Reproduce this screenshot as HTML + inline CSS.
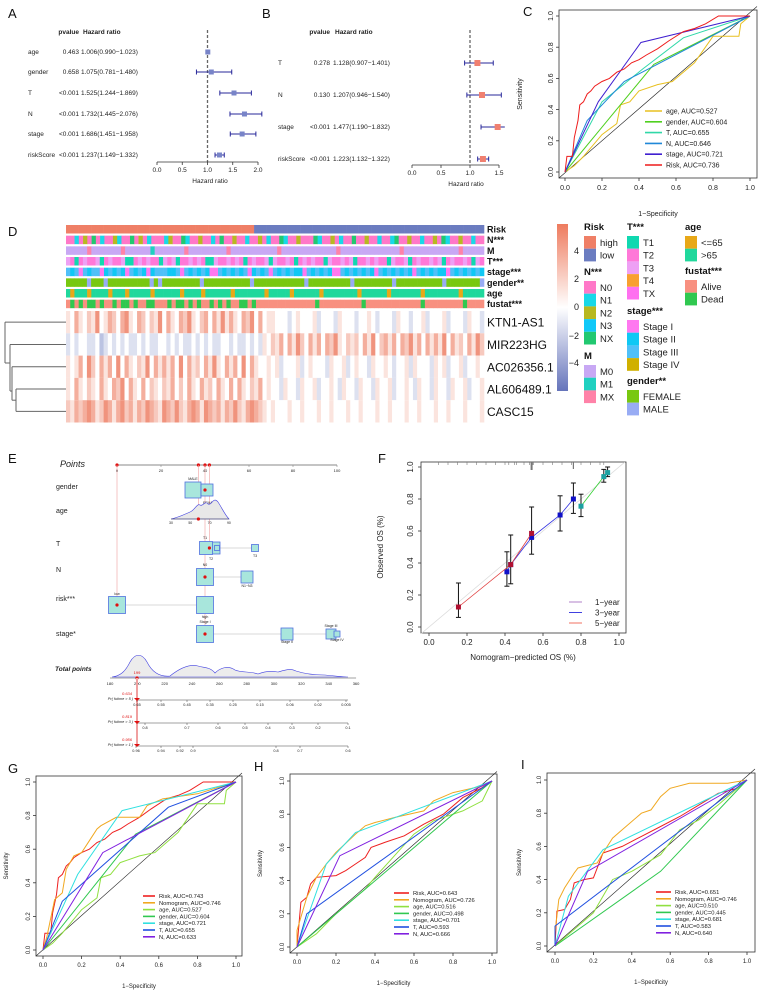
<!DOCTYPE html>
<html><head><meta charset="utf-8">
<style>
html,body{margin:0;padding:0;background:#fff;}
svg{display:block;font-family:"Liberation Sans",Arial,sans-serif;}
</style></head>
<body>
<svg id="fig" width="760" height="993" viewBox="0 0 760 993" xmlns="http://www.w3.org/2000/svg">
<defs>
<linearGradient id="cbar" x1="0" y1="0" x2="0" y2="1">
<stop offset="0" stop-color="#ee7b5e"/><stop offset="0.5" stop-color="#ffffff"/><stop offset="1" stop-color="#6574bb"/>
</linearGradient>
</defs>
</svg>
<script>
// ---------------- DATA ----------------
const aNames=["age","gender","T","N","stage","riskScore"];
const aP=["0.463","0.658","<0.001","<0.001","<0.001","<0.001"];
const aHR=[1.006,1.075,1.525,1.732,1.686,1.237];
const aLo=[0.990,0.781,1.244,1.445,1.451,1.149];
const aHi=[1.023,1.480,1.869,2.076,1.958,1.332];
const aTicks=[0,0.5,1,1.5,2];
const bNames=["T","N","stage","riskScore"];
const bP=["0.278","0.130","<0.001","<0.001"];
const bHR=[1.128,1.207,1.477,1.223];
const bLo=[0.907,0.946,1.190,1.132];
const bHi=[1.401,1.540,1.832,1.322];
const bTicks=[0,0.5,1,1.5];
const rocTicks=[0,0.2,0.4,0.6,0.8,1.0];
const rocTickLabels=["0.0","0.2","0.4","0.6","0.8","1.0"];
const cAge=[[0,0],[0.05,0.04],[0.1,0.1],[0.2,0.24],[0.28,0.31],[0.3,0.43],[0.35,0.45],[0.4,0.52],[0.5,0.56],[0.58,0.58],[0.7,0.7],[0.8,0.87],[0.94,0.87],[0.95,0.95],[1,1]];
const cGender=[[0,0],[0.48,0.69],[1,1]];
const cT=[[0,0],[0.2,0.45],[0.42,0.66],[0.64,0.86],[1,1]];
const cN=[[0,0],[0.12,0.33],[0.32,0.58],[1,1]];
const cStage=[[0,0],[0.18,0.45],[0.41,0.83],[1,1]];
const cRisk=[[0,0],[0.01,0.1],[0.04,0.1],[0.05,0.22],[0.07,0.33],[0.08,0.43],[0.1,0.45],[0.12,0.5],[0.14,0.52],[0.16,0.55],[0.2,0.58],[0.24,0.6],[0.28,0.64],[0.32,0.66],[0.36,0.7],[0.4,0.72],[0.44,0.75],[0.5,0.79],[0.56,0.84],[0.64,0.9],[0.7,0.92],[0.76,0.95],[0.83,1.0],[1,1]];
const cLabels=["age, AUC=0.527","gender, AUC=0.604","T, AUC=0.655","N, AUC=0.646","stage, AUC=0.721","Risk, AUC=0.736"];
const gRisk=cRisk;
const gNomo=[[0,0],[0.02,0.08],[0.06,0.3],[0.1,0.34],[0.12,0.48],[0.16,0.56],[0.2,0.58],[0.24,0.65],[0.28,0.72],[0.3,0.74],[0.38,0.79],[0.5,0.79],[0.54,0.86],[0.62,0.9],[0.8,0.93],[1,1]];
const gAge=cAge;
const gGender=[[0,0],[0.48,0.69],[1,1]];
const gStage=[[0,0],[0.18,0.45],[0.41,0.83],[1,1]];
const gT=[[0,0],[0.1,0.29],[0.65,0.85],[1,1]];
const gN=[[0,0],[0.31,0.58],[1,1]];
const gLabels=["Risk, AUC=0.743","Nomogram, AUC=0.746","age, AUC=0.527","gender, AUC=0.604","stage, AUC=0.721","T, AUC=0.655","N, AUC=0.633"];
const hRisk=[[0,0],[0.02,0.27],[0.05,0.3],[0.07,0.38],[0.1,0.42],[0.2,0.43],[0.25,0.46],[0.3,0.5],[0.35,0.54],[0.38,0.6],[0.45,0.63],[0.55,0.67],[0.65,0.74],[0.75,0.8],[0.85,0.9],[0.95,0.96],[1,1]];
const hNomo=[[0,0],[0,0.1],[0.05,0.3],[0.1,0.42],[0.15,0.5],[0.2,0.57],[0.3,0.68],[0.35,0.73],[0.4,0.75],[0.5,0.78],[0.65,0.82],[0.7,0.88],[0.8,0.93],[0.95,0.97],[1,1]];
const hAge=[[0,0],[0.1,0.08],[0.2,0.2],[0.3,0.3],[0.35,0.35],[0.4,0.42],[0.5,0.55],[0.6,0.68],[0.7,0.76],[0.85,0.82],[0.95,0.88],[1,1]];
const hGender=[[0,0],[0.5,0.498],[1,1]];
const hStage=[[0,0],[0.15,0.5],[0.3,0.69],[1,1]];
const hT=[[0,0],[0.05,0.2],[1,1]];
const hN=[[0,0],[0.22,0.55],[1,1]];
const hLabels=["Risk, AUC=0.643","Nomogram, AUC=0.726","age, AUC=0.516","gender, AUC=0.498","stage, AUC=0.701","T, AUC=0.593","N, AUC=0.666"];
const iRisk=[[0,0],[0.01,0.21],[0.05,0.22],[0.08,0.28],[0.1,0.38],[0.15,0.4],[0.2,0.41],[0.25,0.56],[0.35,0.6],[0.45,0.66],[0.55,0.72],[0.65,0.78],[0.75,0.85],[0.85,0.92],[0.95,0.95],[1,1]];
const iNomo=[[0,0],[0,0.08],[0.02,0.28],[0.05,0.35],[0.1,0.44],[0.12,0.47],[0.22,0.5],[0.25,0.56],[0.3,0.65],[0.35,0.7],[0.45,0.8],[0.5,0.82],[0.55,0.9],[0.6,0.95],[0.7,0.98],[0.9,0.98],[1,1]];
const iAge=[[0,0],[0.1,0.1],[0.2,0.2],[0.3,0.4],[0.4,0.45],[0.55,0.55],[0.65,0.7],[0.75,0.76],[0.85,0.85],[1,1]];
const iGender=[[0,0],[0.55,0.45],[1,1]];
const iStage=[[0,0],[0.07,0.3],[0.25,0.58],[1,1]];
const iT=[[0,0],[0,0.12],[1,1]];
const iN=[[0,0],[0.17,0.45],[1,1]];
const iLabels=["Risk, AUC=0.651","Nomogram, AUC=0.746","age, AUC=0.510","gender, AUC=0.445","stage, AUC=0.681","T, AUC=0.583","N, AUC=0.640"];
const f1x=[0.80,0.92,0.94]; const f1y=[0.755,0.94,0.965];
const f3x=[0.41,0.43,0.54,0.69,0.76]; const f3y=[0.345,0.39,0.56,0.70,0.80];
const f5x=[0.155,0.43,0.54]; const f5y=[0.125,0.39,0.585];
const fErrX=[0.155,0.41,0.43,0.54,0.69,0.76,0.80,0.92,0.94];
const fErrLo=[0.06,0.255,0.27,0.455,0.6,0.71,0.69,0.905,0.94];
const fErrHi=[0.275,0.47,0.575,0.75,0.82,0.9,0.83,0.985,1.0];
const fRug=[0.05,0.1,0.15,0.2,0.25,0.3,0.35,0.4,0.42,0.45,0.46,0.5,0.53,0.54,0.545,0.55,0.6,0.65,0.7,0.75,0.76,0.8,0.85,0.9,0.92];
const riskRow="h".repeat(45)+"l".repeat(55);
const nRow="aabacaeabaacbaaeacabaaabcaaebaacaabaeaacaabaacabaaebaacaaaebaacabaaeaacaabaabeaacaabaacaebaacaabaa";
const mRow="aaaaacaaaaaaacaaaaaabaaaaaaacaaaaaaaaacaaaaaaaaaaacaaaaaaaaaaaaacaaaaaaaaaaaaaacaaaaaaaaaaaaacaaaaa";
const tRow="cbabcbbcabcbbcaabcbcbbacbcabbcbcbaacbbcbcbabcbbcacbbcbabcbcbbacbbcbcabbcbcbbacbbcabcbbcbcabcbbcbacb";
const stageRow="cbcacbccabcbcbacbcbabcccbbcacbcbcbaacbcbcbcabcbcacbcbcbbacbcbcbaacbcbcbcbacbcbcbcbacbcbcbbacbcbcbcb";
const genderRow="aaaaabaaabaaaaaaaaaababaaaaaaaaabaaaaaaaaaaabaaaaaaaaaaaabaaaaaaaaaabaaaaaaaaabaaaaaaaaaaabaaaaaaaab";
const ageRow="babbbabbbbabbbabbbbbabbbbbbabbbbabbbbbbabbbbbbbabbbbbabbbbbbabbbbbbbbabbbbbbabbbbbbbabbbbbbbbabbbbb";
const fustatRow="abababbabaababbabaabbaaababbababaabababaabbabaaaaaaaaaaaaaabaaaaaaaaaabaaaaaaaaaaaaabaaaaaaaaabaaaa";
const geneNames=["KTN1-AS1","MIR223HG","AC026356.1","AL606489.1","CASC15"];
const geneVals=[
"5475465845764785476465847547685467475857547684745544434544453444354443445434443544344534445344435443",
"3434433423434343343433443434334343433443433434354657475864757476854656475846757476857475758475647586",
"5457486475748475465847575748475647585475748475445453444534544435445345443544543445354443545344534454",
"5475465475476847547465465746475475647547475465745443544354453445435443544354453445435443544354453445",
"6576787568757867576876587686578758767576865787654544454454445445444544544454454445445444544544454445"];
const ptsTicks=[0,20,40,60,80,100];
const totTicks=[180,200,220,240,260,280,300,320,340,360];
const ageTicks=[30,50,70,90];

// ---------------- HELPERS ----------------
const svg=document.getElementById('fig');
const NS="http://www.w3.org/2000/svg";
function mk(tag,attrs,name,parent){
  const el=document.createElementNS(NS,tag);
  for(const k in attrs) el.setAttribute(k,attrs[k]);
  
  
  (parent||svg).appendChild(el);
  return el;
}
function txt(x,y,s,name,o){
  o=o||{};
  const a={x:x,y:y,'font-size':o.fs||9,fill:o.fill||'#222'};
  if(o.anchor) a['text-anchor']=o.anchor;
  if(o.weight) a['font-weight']=o.weight;
  if(o.style) a['font-style']=o.style;
  if(o.rot!==undefined) a.transform='rotate('+o.rot+' '+x+' '+y+')';
  const t=mk('text',a,name,o.parent);
  t.textContent=s;
  return t;
}
function ln(x1,y1,x2,y2,stroke,w,name,extra){
  const a={x1:x1,y1:y1,x2:x2,y2:y2,stroke:stroke,'stroke-width':w};
  if(extra) for(const k in extra) a[k]=extra[k];
  return mk('line',a,name);
}
function poly(pts,stroke,w,name){
  return mk('polyline',{points:pts.map(p=>p[0].toFixed(1)+','+p[1].toFixed(1)).join(' '),fill:'none',stroke:stroke,'stroke-width':w},name);
}

[["A",8,18],["B",262,18],["C",523,16],["D",8,236],["E",8,463],["F",378,463],["G",8,773],["H",254,771],["I",521,769]].forEach(p=>{
  txt(p[1],p[2],p[0],'panel-label-'+p[0].toLowerCase(),{fs:13,fill:'#111'});
});

function forest(cfg){
  const sx=v=>cfg.x0+v*cfg.k;
  txt(cfg.pX,cfg.headY,'pvalue','pvalue-header-'+cfg.id,{fs:6.5,weight:'bold',anchor:'end'});
  txt(cfg.hrX+2,cfg.headY,'Hazard ratio','hazard-ratio-header-'+cfg.id,{fs:6.5,weight:'bold'});
  ln(sx(1),cfg.headY-4,sx(1),cfg.axY,'#666',1.3,'reference-line-'+cfg.id,{'stroke-dasharray':'3,2'});
  cfg.names.forEach((n,i)=>{
    const y=cfg.rows[i];
    txt(cfg.nameX,y+2,n,'row-label-'+cfg.id,{fs:6.5});
    txt(cfg.pX,y+2,cfg.p[i],'pvalue-'+cfg.id,{fs:6.5,anchor:'end'});
    txt(cfg.hrX,y+2,cfg.hr[i].toFixed(3)+'('+cfg.lo[i].toFixed(3)+'\u2212'+cfg.hi[i].toFixed(3)+')','hr-text-'+cfg.id,{fs:6.5});
    ln(sx(cfg.lo[i]),y,sx(Math.min(cfg.hi[i],cfg.max)),y,'#27279a',1,'ci-bar-'+cfg.id);
    ln(sx(cfg.lo[i]),y-2.5,sx(cfg.lo[i]),y+2.5,'#27279a',1,'ci-cap-'+cfg.id);
    if(cfg.hi[i]<=cfg.max) ln(sx(cfg.hi[i]),y-2.5,sx(cfg.hi[i]),y+2.5,'#27279a',1,'ci-cap-'+cfg.id);
    const s=cfg.sq;
    mk('rect',{x:sx(cfg.hr[i])-s/2,y:y-s/2,width:s,height:s,fill:cfg.col},'hr-marker-'+cfg.id);
  });
  ln(sx(0),cfg.axY,sx(cfg.ticks[cfg.ticks.length-1]),cfg.axY,'#333',0.8,'x-axis-'+cfg.id);
  cfg.ticks.forEach(t=>{
    ln(sx(t),cfg.axY,sx(t),cfg.axY+3,'#333',0.8,'x-tick-'+cfg.id);
    txt(sx(t),cfg.axY+10,t.toFixed(1),'x-tick-label-'+cfg.id,{fs:6.5,anchor:'middle'});
  });
  txt(cfg.labX,cfg.axY+21,'Hazard ratio','x-axis-title-'+cfg.id,{fs:6.5,anchor:'middle'});
}
forest({id:'a',names:aNames,p:aP,hr:aHR,lo:aLo,hi:aHi,ticks:aTicks,rows:[52,72,93,114,134,155],x0:157,k:50.5,max:2.1,nameX:28,pX:79,hrX:81,headY:34,axY:162,labX:210,sq:5,col:'#7884c8'});
forest({id:'b',names:bNames,p:bP,hr:bHR,lo:bLo,hi:bHi,ticks:bTicks,rows:[63,95,127,159],x0:412,k:58,max:1.6,nameX:278,pX:330,hrX:333,headY:34,axY:165,labX:466,sq:6,col:'#f08070'});

function roc(cfg){
  const sx=f=>cfg.x0+f*(cfg.x1-cfg.x0);
  const sy=t=>cfg.y0-t*(cfg.y0-cfg.y1);
  mk('rect',{x:cfg.bx0,y:cfg.by0,width:cfg.bx1-cfg.bx0,height:cfg.by1-cfg.by0,fill:'none',stroke:'#333','stroke-width':0.8},'plot-frame-'+cfg.id);
  ln(cfg.bx0,cfg.by1,cfg.bx1,cfg.by0-(cfg.bx1-cfg.x1)*0.5,'#222',0.6,'diagonal-'+cfg.id);
  rocTicks.forEach((t,i)=>{
    ln(sx(t),cfg.by1,sx(t),cfg.by1+3,'#333',0.8,'x-tick-'+cfg.id);
    txt(sx(t),cfg.by1+cfg.fs+5,rocTickLabels[i],'x-tick-label-'+cfg.id,{fs:cfg.fs,anchor:'middle'});
    ln(cfg.bx0-3,sy(t),cfg.bx0,sy(t),'#333',0.8,'y-tick-'+cfg.id);
    txt(cfg.bx0-6,sy(t),rocTickLabels[i],'y-tick-label-'+cfg.id,{fs:cfg.fs,anchor:'middle',rot:-90});
  });
  txt((cfg.bx0+cfg.bx1)/2,cfg.xlabY,'1\u2212Specificity','x-axis-title-'+cfg.id,{fs:cfg.fs,anchor:'middle'});
  txt(cfg.ylabX,(cfg.by0+cfg.by1)/2,'Sensitivity','y-axis-title-'+cfg.id,{fs:cfg.fs,anchor:'middle',rot:-90});
  cfg.curves.forEach((c,i)=>{
    poly(c.pts.map(p=>[sx(p[0]),sy(p[1])]),c.col,cfg.lw,'roc-curve-'+cfg.id+'-'+i);
  });
  cfg.labels.forEach((l,i)=>{
    const y=cfg.legY+i*cfg.legStep;
    ln(cfg.legX,y,cfg.legX+cfg.legLen,y,cfg.curves[i].col,cfg.lw+0.6,'legend-swatch-'+cfg.id);
    txt(cfg.legX+cfg.legLen+4,y+cfg.lfs*0.35,l,'legend-entry-'+cfg.id,{fs:cfg.lfs});
  });
}
roc({id:'c',x0:565,x1:750,y0:172,y1:16,bx0:559,bx1:757,by0:10,by1:178,fs:7,lfs:7,lw:1,xlabY:216,ylabX:522,
  curves:[{pts:cAge,col:'#e8c020'},{pts:cGender,col:'#50d020'},{pts:cT,col:'#30d8a8'},{pts:cN,col:'#2088d8'},{pts:cStage,col:'#4020d0'},{pts:cRisk,col:'#ee1c1c'}],
  labels:cLabels,legX:645,legLen:17,legY:111,legStep:10.8});
const gCols=[{col:'#ee2020'},{col:'#f0a820'},{col:'#90e040'},{col:'#30c850'},{col:'#30e0e0'},{col:'#2050e0'},{col:'#8020e0'}];
function gcurves(arrs){return arrs.map((a,i)=>({pts:a,col:gCols[i].col}));}
roc({id:'g',x0:43,x1:236,y0:950,y1:782,bx0:36,bx1:242,by0:776,by1:956,fs:6,lfs:5.8,lw:1,xlabY:988,ylabX:8,
  curves:gcurves([gRisk,gNomo,gAge,gGender,gStage,gT,gN]),labels:gLabels,legX:143,legLen:12,legY:896,legStep:6.8});
roc({id:'h',x0:297,x1:492,y0:947,y1:781,bx0:290,bx1:497,by0:774,by1:953,fs:6,lfs:5.8,lw:1,xlabY:985,ylabX:262,
  curves:gcurves([hRisk,hNomo,hAge,hGender,hStage,hT,hN]),labels:hLabels,legX:394,legLen:15,legY:893,legStep:6.8});
roc({id:'i',x0:555,x1:747,y0:946,y1:780,bx0:547,bx1:755,by0:773,by1:952,fs:6,lfs:5.8,lw:1,xlabY:984,ylabX:521,
  curves:gcurves([iRisk,iNomo,iAge,iGender,iStage,iT,iN]),labels:iLabels,legX:656,legLen:15,legY:892,legStep:6.8});

const hx0=66,hx1=484;
const annot=[
 {name:'Risk',row:riskRow,cols:{h:'#ef7f66',l:'#6b7cc0'}},
 {name:'N***',row:nRow,cols:{a:'#ff78c8',b:'#18d8e8',c:'#b8b820',d:'#10c8f8',e:'#22c870'}},
 {name:'M',row:mRow,cols:{a:'#c8a8f4',b:'#20d0c0',c:'#ff82a8'}},
 {name:'T***',row:tRow,cols:{a:'#10d8b0',b:'#ff78d8',c:'#eea0f4',d:'#f8a030',e:'#ff70f0'}},
 {name:'stage***',row:stageRow,cols:{a:'#ff78f0',b:'#10c8f4',c:'#50c0f8',d:'#d0b000'}},
 {name:'gender**',row:genderRow,cols:{a:'#78c810',b:'#98acf4'}},
 {name:'age',row:ageRow,cols:{a:'#e8a818',b:'#20d89c'}},
 {name:'fustat***',row:fustatRow,cols:{a:'#f89080',b:'#30c850'}}
];
annot.forEach((a,r)=>{
  const y=225+r*10.67, n=a.row.length, w=(hx1-hx0)/n;
  for(let i=0;i<n;i++){
    mk('rect',{x:hx0+i*w,y:y,width:w+0.3,height:8.5,fill:a.cols[a.row[i]]},'annotation-cell-'+r);
  }
  txt(hx1+3,y+7.5,a.name,'annotation-label',{fs:9,weight:'bold',fill:'#111'});
});
function heatCol(d){
  const t=(d-4)/5;
  if(t>=0){return 'rgb('+Math.round(255-(255-236)*t)+','+Math.round(255-(255-120)*t)+','+Math.round(255-(255-92)*t)+')';}
  const u=-t*1.1;return 'rgb('+Math.round(255-(255-100)*u)+','+Math.round(255-(255-118)*u)+','+Math.round(255-(255-188)*u)+')';
}
const gy0=311,gh=22.3;
geneVals.forEach((s,r)=>{
  const n=s.length,w=(hx1-hx0)/n;
  for(let i=0;i<n;i++){
    mk('rect',{x:hx0+i*w,y:gy0+r*gh,width:w+0.3,height:gh,fill:heatCol(+s[i])},'heatmap-cell-'+geneNames[r]);
  }
  txt(hx1+3,gy0+r*gh+gh/2+4.5,geneNames[r],'gene-label',{fs:12,fill:'#111'});
});
const rc=r=>gy0+r*gh+gh/2;
[[16,rc(3),hx0,rc(3)],[16,rc(4),hx0,rc(4)],[16,rc(3),16,rc(4)],
 [12,rc(2),hx0,rc(2)],[12,rc(2),12,(rc(3)+rc(4))/2],[12,(rc(3)+rc(4))/2,16,(rc(3)+rc(4))/2],
 [10,rc(1),hx0,rc(1)],[10,rc(1),10,(rc(2)+rc(3)+rc(4))/3+2],[10,(rc(2)+rc(3)+rc(4))/3+2,12,(rc(2)+rc(3)+rc(4))/3+2],
 [5,rc(0),hx0,rc(0)],[5,rc(0),5,363],[5,363,10,363]].forEach(s=>ln(s[0],s[1],s[2],s[3],'#666',1,'dendrogram-branch'));
mk('rect',{x:557,y:224,width:11,height:167,fill:'url(#cbar)'},'color-scale-bar');
[["4",251],["2",279],["0",307],["\u22122",336],["\u22124",363]].forEach(l=>txt(579,l[1]+3,l[0],'color-scale-tick',{fs:9,anchor:'end'}));
function legBlock(x,ty,title,items){
  txt(x,ty,title,'legend-title',{fs:9.5,weight:'bold',fill:'#111'});
  items.forEach((it,i)=>{
    const y=ty+6+i*12.7;
    mk('rect',{x:x,y:y,width:12,height:12.7,fill:it[1]},'legend-swatch');
    txt(x+16,y+10,it[0],'legend-entry',{fs:9.5});
  });
}
legBlock(584,230,'Risk',[['high','#ef7f66'],['low','#6b7cc0']]);
legBlock(584,275,'N***',[['N0','#ff78c8'],['N1','#18d8e8'],['N2','#b8b820'],['N3','#10c8f8'],['NX','#22c870']]);
legBlock(584,359,'M',[['M0','#c8a8f4'],['M1','#20d0c0'],['MX','#ff82a8']]);
legBlock(627,230,'T***',[['T1','#10d8b0'],['T2','#ff78d8'],['T3','#eea0f4'],['T4','#f8a030'],['TX','#ff70f0']]);
legBlock(627,314,'stage***',[['Stage I','#ff78f0'],['Stage II','#10c8f4'],['Stage III','#50c0f8'],['Stage IV','#d0b000']]);
legBlock(627,384,'gender**',[['FEMALE','#78c810'],['MALE','#98acf4']]);
legBlock(685,230,'age',[['<=65','#e8a818'],['>65','#20d89c']]);
legBlock(685,274,'fustat***',[['Alive','#f89080'],['Dead','#30c850']]);

const px=v=>117+v*2.2;
txt(60,467,'Points','points-label',{fs:9,style:'italic'});
ln(px(0),465,px(100),465,'#888',1,'points-axis');
ptsTicks.forEach(t=>{ln(px(t),465,px(t),467,'#888',0.6,'points-tick');txt(px(t),472,String(t),'points-tick-label',{fs:4,anchor:'middle'});});
[0,37,40,42].forEach(v=>mk('circle',{cx:px(v),cy:465,r:1.6,fill:'#e01010'},'points-marker'));
[[px(0),465,605],[px(37),465,520],[px(40),465,634],[px(42),465,548]].forEach(s=>ln(s[0],s[1],s[0],s[2],'#f0a0a0',0.6,'score-guide-line'));
[['gender',489],['age',513],['T',546],['N',572],['risk***',601],['stage*',636]].forEach(r=>txt(56,r[1],r[0],'nomogram-row-label',{fs:7}));
function nbox(cx,cy,s,name){mk('rect',{x:cx-s/2,y:cy-s/2,width:s,height:s,fill:'#a8e6dc',stroke:'#5070e0','stroke-width':0.8},name);}
function ndot(cx,cy){mk('circle',{cx:cx,cy:cy,r:1.6,fill:'#e01010'},'nomogram-point');}
nbox(193,490,16,'gender-male-box');nbox(207,490,12,'gender-female-box');ndot(px(40),490);
txt(193,480,'MALE','category-label',{fs:3.5,anchor:'middle'});txt(210,504,'FEMALE','category-label',{fs:3.5,anchor:'middle'});
mk('path',{d:'M171,519 C180,517 185,514 190,512 C195,510 197,503 200,505 C203,507 205,500 208,504 C212,506 213,496 218,502 C222,508 225,515 229,519 Z',fill:'#e8e8e8',stroke:'#4040e0','stroke-width':0.6},'age-density');
ln(171,519,229,519,'#444',0.6,'age-axis');
ageTicks.forEach((t,i)=>txt(171+i*19.3,524,String(t),'age-tick-label',{fs:3.5,anchor:'middle'}));
ndot(px(37),519);
ln(205,548,255,548,'#ccc',0.8,'t-connector');
nbox(214,548,12,'t-t4-box');nbox(206,548,13,'t-t1-box');nbox(217,548,5,'t-t2-box');nbox(255,548,7,'t-t3-box');ndot(px(42),548);
txt(205,539,'T1','category-label',{fs:3.5,anchor:'middle'});txt(211,560,'T2','category-label',{fs:3.5,anchor:'middle'});txt(255,557,'T3','category-label',{fs:3.5,anchor:'middle'});
ln(205,577,247,577,'#ccc',0.8,'n-connector');
nbox(205,577,17,'n-n0-box');nbox(247,577,12,'n-n1n3-box');ndot(px(40),577);
txt(205,566,'N0','category-label',{fs:3.5,anchor:'middle'});txt(247,587,'N1~N3','category-label',{fs:3.5,anchor:'middle'});
ln(117,605,205,605,'#ccc',0.8,'risk-connector');
nbox(117,605,17,'risk-low-box');nbox(205,605,17,'risk-high-box');ndot(px(0),605);
txt(117,595,'low','category-label',{fs:3.5,anchor:'middle'});txt(205,618,'high','category-label',{fs:3.5,anchor:'middle'});
ln(205,634,337,634,'#ccc',0.8,'stage-connector');
nbox(205,634,17,'stage-i-box');nbox(287,634,12,'stage-ii-box');nbox(331,634,10,'stage-iii-box');nbox(337,634,6,'stage-iv-box');ndot(px(40),634);
txt(205,623,'Stage I','category-label',{fs:3.5,anchor:'middle'});txt(287,643,'Stage II','category-label',{fs:3.5,anchor:'middle'});
txt(331,627,'Stage III','category-label',{fs:3.5,anchor:'middle'});txt(337,641,'Stage IV','category-label',{fs:3.5,anchor:'middle'});
const tx=v=>110+(v-180)*1.367;
txt(55,671,'Total points','total-points-label',{fs:6.5,style:'italic',weight:'bold'});
mk('path',{d:'M112,677 C120,676 125,672 130,662 C135,653 142,653 147,662 C152,672 160,677 170,676 C180,668 190,664 198,666 C205,668 210,667 215,673 C220,668 228,665 235,670 C242,673 250,671 258,674 C265,671 272,671 278,672 C285,670 290,668 296,671 C305,674 315,675 325,675 C335,676 345,677 348,677 Z',fill:'#ececec',stroke:'#4040e0','stroke-width':0.6},'total-points-density');
ln(tx(180),678,tx(360),678,'#444',0.6,'total-points-axis');
totTicks.forEach(t=>txt(tx(t),685,String(t),'total-tick-label',{fs:4,anchor:'middle'}));
txt(137,674,'199','total-score-value',{fs:4,fill:'#e01010',anchor:'middle'});
mk('circle',{cx:137,cy:678,r:1.6,fill:'#e01010'},'total-score-marker');
mk('rect',{x:136,y:678,width:2,height:68,fill:'#f0a0a0'},'survival-guide-line');
function prAxis(y,label,val,ticks){
  txt(133,y,label,'survival-axis-label',{fs:3.8,style:'italic',anchor:'end'});
  ln(137,y,348,y,'#444',0.6,'survival-axis');
  ticks.forEach(t=>{ln(t[1],y,t[1],y+2,'#444',0.5,'survival-tick');txt(t[1],y+6,t[0],'survival-tick-label',{fs:3.8,anchor:'middle'});});
  txt(127,y-5,val,'survival-probability-value',{fs:4,fill:'#e01010',style:'italic',anchor:'middle'});
  mk('path',{d:'M134,'+(y-2)+' L140,'+(y-2)+' L137,'+(y+1)+' Z',fill:'#e01010'},'survival-marker');
}
prAxis(700,'Pr( futime > 5 )','0.634',[['0.65',137],['0.55',161],['0.45',187],['0.35',210],['0.25',233],['0.15',260],['0.06',290],['0.02',318],['0.005',346]]);
prAxis(723,'Pr( futime > 3 )','0.819',[['0.8',145],['0.7',187],['0.6',218],['0.5',245],['0.4',268],['0.3',292],['0.2',318],['0.1',348]]);
prAxis(746,'Pr( futime > 1 )','0.956',[['0.96',136],['0.94',161],['0.92',180],['0.9',193],['0.8',276],['0.7',300],['0.6',348]]);

const fx=v=>429+v*190, fy=v=>627-v*160;
mk('rect',{x:421,y:462,width:205,height:171,fill:'none',stroke:'#333','stroke-width':0.8},'calibration-frame');
ln(fx(-0.04),fy(-0.04),fx(1.03),fy(1.03),'#ddd',0.8,'ideal-line');
rocTicks.forEach((t,i)=>{
  ln(fx(t),633,fx(t),636,'#333',0.8,'x-tick-f');
  txt(fx(t),645,rocTickLabels[i],'x-tick-label-f',{fs:8,anchor:'middle'});
  ln(418,fy(t),421,fy(t),'#333',0.8,'y-tick-f');
  txt(413,fy(t),rocTickLabels[i],'y-tick-label-f',{fs:8,anchor:'middle',rot:-90});
});
txt(523,660,'Nomogram\u2212predicted OS (%)','x-axis-title-f',{fs:8,anchor:'middle'});
txt(383,547,'Observed OS (%)','y-axis-title-f',{fs:8,anchor:'middle',rot:-90});
fRug.forEach(v=>ln(fx(v),462,fx(v),465,'#777',0.6,'rug-tick'));
ln(fx(0.54),462,fx(0.54),470,'#777',2,'rug-spike');ln(fx(0.76),462,fx(0.76),469,'#777',1.2,'rug-spike');
fErrX.forEach((x,i)=>{
  ln(fx(x),fy(fErrLo[i]),fx(x),fy(fErrHi[i]),'#111',1,'error-bar');
  ln(fx(x)-2.5,fy(fErrLo[i]),fx(x)+2.5,fy(fErrLo[i]),'#111',1,'error-cap');
  ln(fx(x)-2.5,fy(fErrHi[i]),fx(x)+2.5,fy(fErrHi[i]),'#111',1,'error-cap');
});
function calSeries(xs,ys,lc,pc,name){
  poly(xs.map((x,i)=>[fx(x),fy(ys[i])]),lc,0.8,name+'-line');
  xs.forEach((x,i)=>mk('rect',{x:fx(x)-2.5,y:fy(ys[i])-2.5,width:5,height:5,fill:pc},name+'-point'));
}
calSeries(f1x,f1y,'#30d030','#1aa0a0','calibration-1-year');
calSeries(f3x,f3y,'#3030e0','#1010c8','calibration-3-year');
calSeries(f5x,f5y,'#e04040','#b01030','calibration-5-year');
[['1\u2212year','#b080c8'],['3\u2212year','#4040e0'],['5\u2212year','#f07060']].forEach((l,i)=>{
  const y=602+i*10.5;
  ln(569,y,582,y,l[1],1,'legend-swatch-f');
  txt(595,y+3,l[0],'legend-entry-f',{fs:8});
});
</script>
</body></html>
